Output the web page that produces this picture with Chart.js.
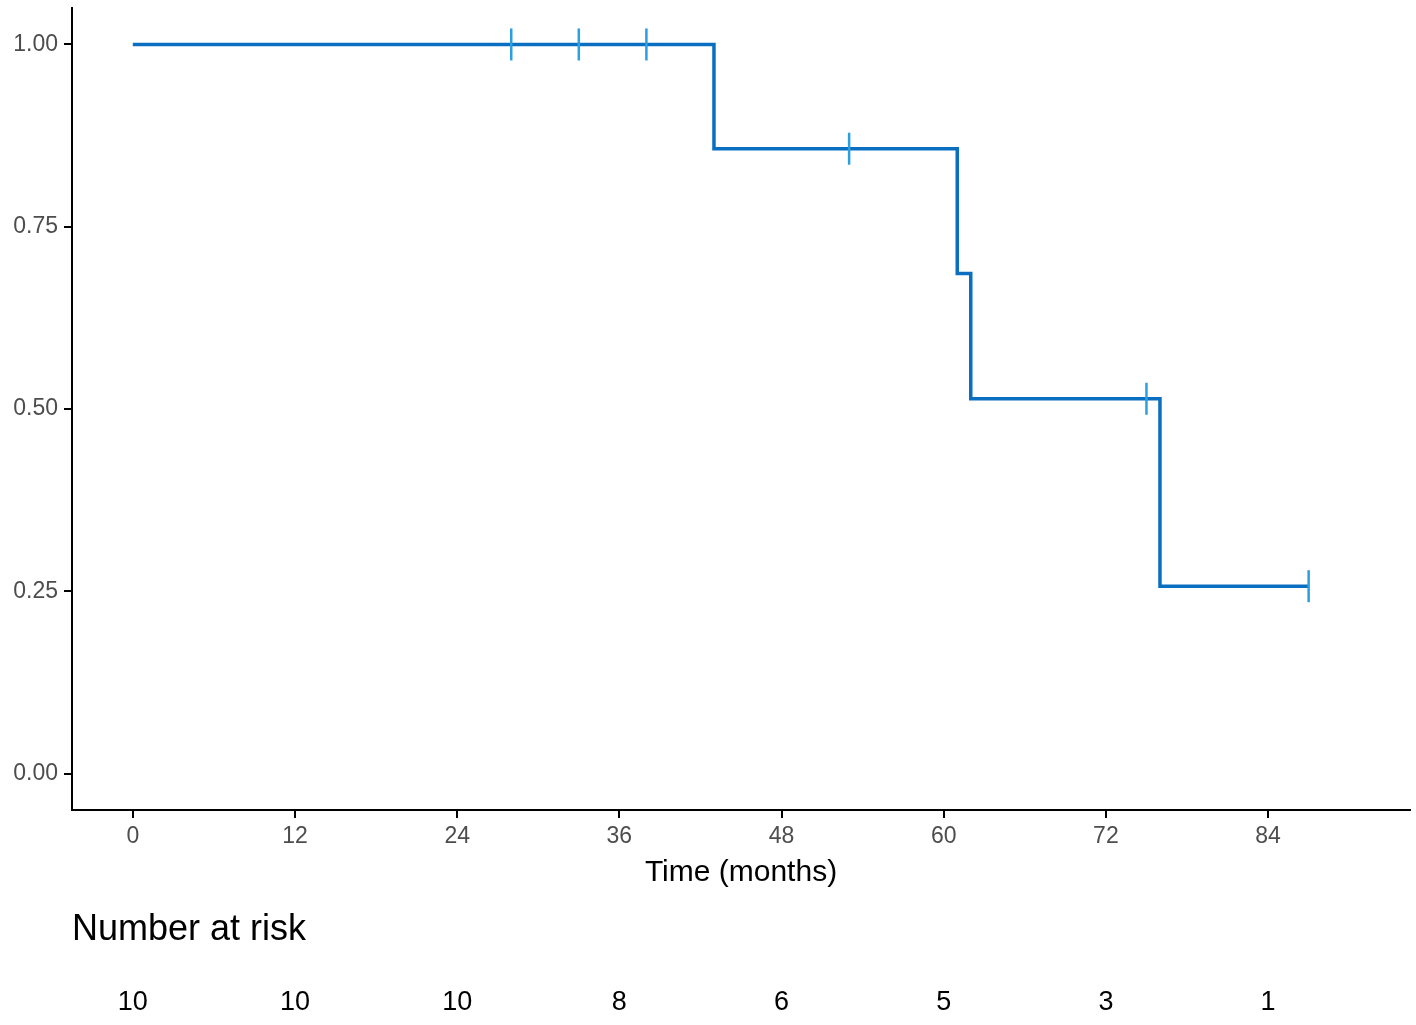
<!DOCTYPE html>
<html>
<head>
<meta charset="utf-8">
<script src="https://cdn.jsdelivr.net/npm/chart.js@4.4.1/dist/chart.umd.min.js"></script>
<style>
  html, body { margin:0; padding:0; background:#fff; }
  #wrap { width:1416px; height:1025px; position:relative; }
</style>
</head>
<body>
<div id="wrap"><canvas id="km"></canvas></div>
<script>
// Kaplan-Meier curve
const stepTimes = [0, 43, 61, 62, 76, 87];
const survival = [1.0, 0.857, 0.686, 0.514, 0.257, 0.257];
const censorTimes = [28, 33, 38, 53, 75, 87];
const censorSurv = [1.0, 1.0, 1.0, 0.857, 0.514, 0.257];
const riskTimes = [0, 12, 24, 36, 48, 60, 72, 84];
const riskCounts = [10, 10, 10, 8, 6, 5, 3, 1];
const yTicks = [0, 0.25, 0.5, 0.75, 1.0];

const FONT = '"Liberation Sans", Arial, sans-serif';

const riskTable = {
  id: 'riskTable',
  afterDraw(chart) {
    const ctx = chart.ctx;
    const x = chart.scales.x;
    ctx.save();
    ctx.fillStyle = '#000';
    ctx.textBaseline = 'middle';
    ctx.font = '30px ' + FONT;
    ctx.textAlign = 'center';
    ctx.fillText('Time (months)', (chart.chartArea.left + chart.chartArea.right) / 2, 873);
    ctx.font = '36px ' + FONT;
    ctx.textAlign = 'left';
    ctx.fillText('Number at risk', chart.chartArea.left, 930);
    ctx.font = '27px ' + FONT;
    ctx.textAlign = 'center';
    riskTimes.forEach((t, i) => {
      ctx.fillText(String(riskCounts[i]), x.getPixelForValue(t), 1003);
    });
    ctx.restore();
  }
};

new Chart(document.getElementById('km'), {
  type: 'line',
  data: {
    datasets: [
      {
        label: 'censored',
        type: 'scatter',
        data: censorTimes.map((t, i) => ({ x: t, y: censorSurv[i] })),
        pointStyle: 'line',
        pointRotation: 90,
        pointRadius: 16,
        pointHoverRadius: 16,
        pointBorderWidth: 2.5,
        pointBorderColor: '#2B9FE0',
        pointBackgroundColor: '#2B9FE0',
        showLine: false
      },
      {
        label: 'survival',
        data: stepTimes.map((t, i) => ({ x: t, y: survival[i] })),
        stepped: 'before',
        borderColor: '#0B6FC1',
        borderWidth: 3.5,
        pointRadius: 0,
        fill: false
      }
    ]
  },
  options: {
    responsive: true,
    maintainAspectRatio: false,
    animation: false,
    layout: { autoPadding: false, padding: { top: 8, right: 6, bottom: 125, left: 0 } },
    plugins: { legend: { display: false }, tooltip: { enabled: false } },
    scales: {
      x: {
        type: 'linear',
        min: -4.5,
        max: 94.5,
        afterBuildTicks: s => { s.ticks = riskTimes.map(v => ({ value: v })); },
        afterFit: s => { s.height = 90; s.paddingLeft = 0; s.paddingRight = 0; },
        border: { display: true, color: '#000', width: 2 },
        grid: { drawOnChartArea: false, drawTicks: true, tickLength: 8, color: '#000', lineWidth: 2 },
        ticks: { color: '#4D4D4D', font: { family: FONT, size: 23 }, padding: 5, maxRotation: 0 }
      },
      y: {
        type: 'linear',
        min: -0.05,
        max: 1.05,
        afterBuildTicks: s => { s.ticks = yTicks.map(v => ({ value: v })); },
        afterFit: s => { s.width = 72; s.paddingTop = 0; s.paddingBottom = 0; },
        border: { display: true, color: '#000', width: 2 },
        grid: { drawOnChartArea: false, drawTicks: true, tickLength: 8, color: '#000', lineWidth: 2 },
        ticks: {
          color: '#4D4D4D',
          font: { family: FONT, size: 23 },
          padding: 6,
          callback: v => Number(v).toFixed(2)
        }
      }
    }
  },
  plugins: [riskTable]
});
</script>
</body>
</html>
